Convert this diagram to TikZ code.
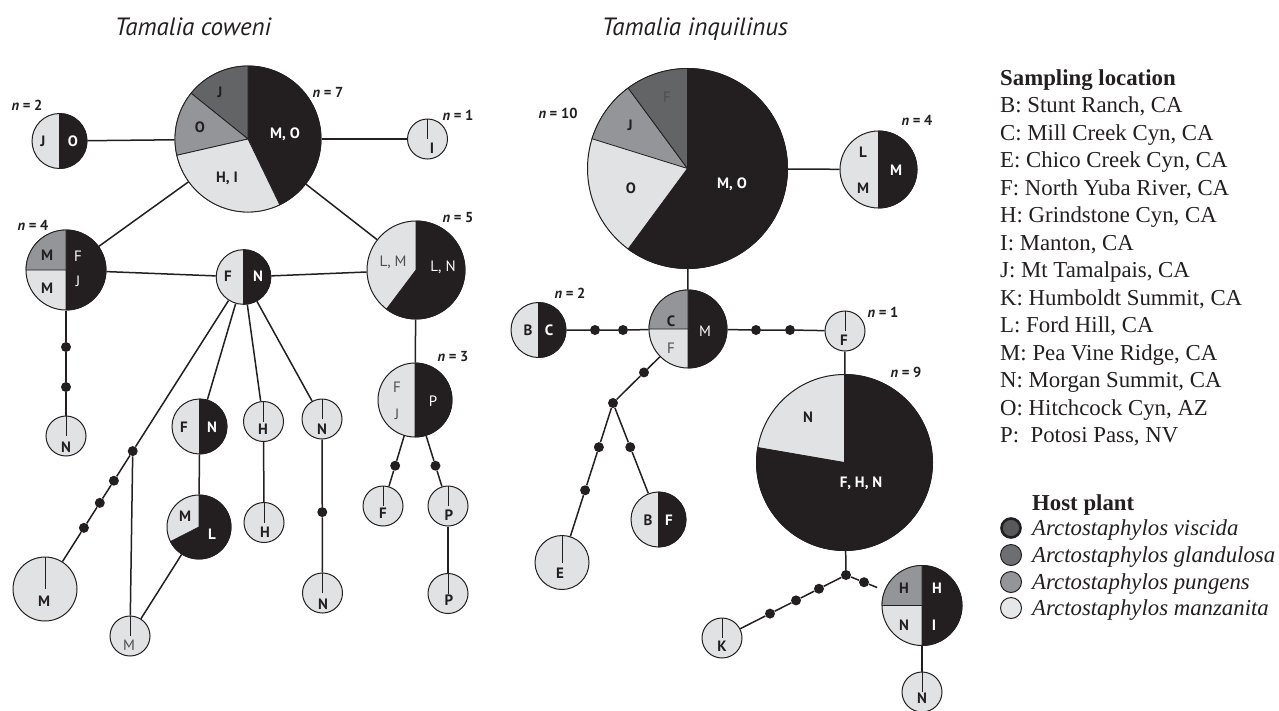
\documentclass[tikz,border=0pt]{standalone}
\usepackage{fontspec}
\setmainfont{Liberation Serif}
\newfontfamily\hapfont{PT Sans}
\usetikzlibrary{calc}

\definecolor{ink}{HTML}{231F20}
\definecolor{pale}{HTML}{E1E2E4}
\definecolor{mid}{HTML}{939598}
\definecolor{dark}{HTML}{636466}
\definecolor{dimtext}{HTML}{4D4D4F}
\definecolor{keyvis}{HTML}{58595B}
\definecolor{keygla}{HTML}{6D6E71}
\definecolor{keypun}{HTML}{939598}
\definecolor{keyman}{HTML}{E6E7E8}

\tikzset{
  hap/.style={circle, draw=ink, fill=pale, line width=1pt, inner sep=0pt},
  link/.style={draw=ink, line width=1.5pt},
  mdot/.style={circle, fill=ink, inner sep=0pt, minimum size=10pt},
  lb/.style={font=\hapfont\bfseries\fontsize{15}{16}\selectfont, text=ink,
             inner sep=0pt, anchor=base, yshift=-5.2pt},
  lw/.style={lb, text=white},
  lr/.style={font=\hapfont\fontsize{15}{16}\selectfont, text=dimtext,
             inner sep=0pt, anchor=base, yshift=-5.2pt},
  lrw/.style={lr, text=white},
  ncount/.style={lb, font=\hapfont\bfseries\fontsize{14.5}{16}\selectfont},
  ttl/.style={font=\hapfont\itshape\fontsize{25}{28}\selectfont, text=ink,
              inner sep=0pt, anchor=base, yshift=-8.5pt},
  keytext/.style={font=\fontsize{22.8}{26}\selectfont, text=ink,
                  inner sep=0pt, anchor=base west, yshift=-7.5pt},
  keyhead/.style={keytext, font=\bfseries\fontsize{22.8}{26}\selectfont},
  keyspec/.style={keytext, font=\itshape\fontsize{22.8}{26}\selectfont},
  keydisc/.style={circle, inner sep=0pt, minimum size=21pt, draw=ink, line width=1pt},
}

% haplotype circle: name, x, y (downwards), radius
\newcommand\hapat[4]{\node[hap, minimum size={2*#4pt}] (#1) at (#2,-#3) {};}
% coloured sector of a haplotype: name, radius, start, end, colour
\newcommand\piepart[5]{\filldraw[fill=#5, draw=ink, line width=0.8pt]
  (#1.center) -- ++(#3:#2pt) arc[start angle=#3, end angle=#4, radius=#2pt] -- cycle;}
% radius mark of a single-sample haplotype
\newcommand\stem[2]{\draw[ink, line width=1pt] (#1.center) -- ++(90:#2pt);}
% text label: style, name, x, y (downwards), text
\newcommand\lab[5]{\node[#1] (#2) at (#3,-#4) {#5};}
\newcommand\nn[1]{{\itshape n} = #1}

\begin{document}
\begin{tikzpicture}[x=1pt, y=1pt]
\useasboundingbox (0,0) rectangle (1279,-710);

% ---------- titles ----------
\lab{ttl}{title-a}{193}{27}{Tamalia coweni}
\lab{ttl}{title-b}{695}{27}{Tamalia inquilinus}

% ---------- Tamalia coweni network ----------
\hapat{c7}{248}{139}{73}
\hapat{c2}{59.5}{141}{27.5}
\hapat{c1}{427.5}{139}{20}
\hapat{c4}{66}{270}{40}
\hapat{cfn}{243.5}{277}{27.3}
\hapat{c5}{416}{270}{49}
\hapat{cna}{66}{436}{20}
\hapat{c3}{415}{400}{37}
\hapat{cfa}{383}{506}{20}
\hapat{cpa}{448}{506}{20}
\hapat{cpb}{448}{593.5}{20}
\hapat{cfn2}{199.5}{426.5}{27.5}
\hapat{cha}{263.5}{421.5}{20}
\hapat{chb}{264}{522.5}{20}
\hapat{cnb}{322}{419}{20}
\hapat{cnc}{322.5}{593}{20}
\hapat{cml}{199}{527}{32}
\hapat{cmb}{45}{589}{32}
\hapat{cms}{130}{636}{20}

\node[mdot] (da1) at (66,-347) {};
\node[mdot] (da2) at (66,-387) {};
\node[mdot] (da3) at ($(c3)!0.62!(cfa)$) {};
\node[mdot] (da4) at ($(c3)!0.62!(cpa)$) {};
\node[mdot] (da5) at ($(cnb)!0.535!(cnc)$) {};
\node[mdot] (jx)  at ($(cfn)!0.558!(cmb)$) {};
\node[mdot] (db1) at ($(cfn)!0.653!(cmb)$) {};
\node[mdot] (db2) at ($(cfn)!0.724!(cmb)$) {};
\node[mdot] (db3) at ($(cfn)!0.804!(cmb)$) {};

\draw[link] (c2) -- (c7);
\draw[link] (c7) -- (c1);
\draw[link] (c7) -- (c4);
\draw[link] (c7) -- (c5);
\draw[link] (c4) -- (cfn);
\draw[link] (cfn) -- (c5);
\draw[link] (c4) -- (da1) -- (da2) -- (cna);
\draw[link] (c5) -- (c3);
\draw[link] (c3) -- (da3) -- (cfa);
\draw[link] (c3) -- (da4) -- (cpa);
\draw[link] (cpa) -- (cpb);
\draw[link] (cfn) -- (jx) -- (db1) -- (db2) -- (db3) -- (cmb);
\draw[link] (jx) -- (cms);
\draw[link] (cml) -- (cms);
\draw[link] (cfn) -- (cfn2);
\draw[link] (cfn2) -- (cml);
\draw[link] (cfn) -- (cha);
\draw[link] (cha) -- (chb);
\draw[link] (cfn) -- (cnb);
\draw[link] (cnb) -- (da5) -- (cnc);

\piepart{c7}{73}{-64.2}{90}{ink}
\piepart{c7}{73}{90}{141.2}{dark}
\piepart{c7}{73}{141.2}{192.9}{mid}
\piepart{c7}{73}{192.9}{295.8}{pale}
\piepart{c2}{27.5}{-90}{90}{ink}
\piepart{c4}{40}{-90}{90}{ink}
\piepart{c4}{40}{90}{180}{mid}
\piepart{cfn}{27.3}{-90}{90}{ink}
\piepart{c5}{49}{233}{450}{ink}
\piepart{c3}{37}{-90}{90}{ink}
\piepart{cfn2}{27.5}{-90}{90}{ink}
\piepart{cml}{32}{207}{450}{ink}
\stem{c1}{20}\stem{cna}{20}\stem{cfa}{20}\stem{cpa}{20}\stem{cpb}{20}
\stem{cha}{20}\stem{chb}{20}\stem{cnb}{20}\stem{cnc}{20}\stem{cmb}{32}\stem{cms}{20}

\lab{lb}{t-c7a}{220}{92}{J}
\lab{lb}{t-c7b}{200}{127}{O}
\lab{lw}{t-c7c}{285}{133}{M, O}
\lab{lb}{t-c7d}{227}{177}{H, I}
\lab{lb}{t-c2a}{43}{141}{J}
\lab{lw}{t-c2b}{73}{141}{O}
\lab{lb}{t-c1}{432}{148}{I}
\lab{lb}{t-c4a}{47}{255}{M}
\lab{lrw}{t-c4b}{78}{256}{F}
\lab{lb}{t-c4c}{47}{288}{M}
\lab{lrw}{t-c4d}{78}{281}{J}
\lab{lb}{t-fna}{228}{276}{F}
\lab{lw}{t-fnb}{258}{276}{N}
\lab{lr}{t-c5a}{393}{261}{L, M}
\lab{lrw}{t-c5b}{443}{266}{L, N}
\lab{lb}{t-na}{66}{447}{N}
\lab{lr}{t-c3a}{397}{387}{F}
\lab{lr}{t-c3b}{397}{414}{J}
\lab{lrw}{t-c3c}{433}{401}{P}
\lab{lb}{t-fa}{383}{513}{F}
\lab{lb}{t-pa}{449}{515}{P}
\lab{lb}{t-pb}{449}{600}{P}
\lab{lb}{t-fn2a}{184}{427}{F}
\lab{lw}{t-fn2b}{212}{427}{N}
\lab{lb}{t-ha}{263}{429}{H}
\lab{lb}{t-hb}{265}{532}{H}
\lab{lb}{t-nb}{322}{429}{N}
\lab{lb}{t-nc}{323}{604}{N}
\lab{lb}{t-mla}{185}{516}{M}
\lab{lw}{t-mlb}{212}{534}{L}
\lab{lb}{t-mb}{44}{601}{M}
\lab{lr}{t-ms}{129}{645}{M}

\lab{ncount}{n-c7}{328}{92}{\nn{7}}
\lab{ncount}{n-c2}{27}{105}{\nn{2}}
\lab{ncount}{n-c1}{458}{115}{\nn{1}}
\lab{ncount}{n-c4}{33}{225}{\nn{4}}
\lab{ncount}{n-c5}{458}{217}{\nn{5}}
\lab{ncount}{n-c3}{453}{356}{\nn{3}}

% ---------- Tamalia inquilinus network ----------
\hapat{r10}{687.5}{168.5}{100}
\hapat{rlm}{878.5}{169.5}{38.5}
\hapat{rcm}{688}{329}{39}
\hapat{rbc}{538.5}{330}{27.5}
\hapat{rf}{845}{331}{20}
\hapat{re}{562}{562.5}{27}
\hapat{rbf}{658.5}{519.5}{27.5}
\hapat{rk}{722}{638}{20}
\hapat{r9}{844.5}{462.5}{88}
\hapat{rhi}{922}{605.5}{40}
\hapat{rn}{922}{692}{20}

\node[mdot] (e1) at (595,-330) {};
\node[mdot] (e2) at (623,-330) {};
\node[mdot] (e3) at (756,-330) {};
\node[mdot] (e4) at (790,-330) {};
\node[mdot] (jz) at (613,-403) {};
\node[mdot] (e5) at ($(rcm)!0.587!(jz)$) {};
\node[mdot] (e6) at ($(jz)!0.277!(re)$) {};
\node[mdot] (e7) at ($(jz)!0.547!(re)$) {};
\node[mdot] (e8) at ($(jz)!0.379!(rbf)$) {};
\node[mdot] (jy) at (846,-575) {};
\node[mdot] (e9) at ($(jy)!0.237!(rhi)$) {};
\coordinate (stub) at ($(jy)!0.41!(rhi)$);
\node[mdot] (e10) at ($(jy)!0.218!(rk)$) {};
\node[mdot] (e11) at ($(jy)!0.403!(rk)$) {};
\node[mdot] (e12) at ($(jy)!0.613!(rk)$) {};

\draw[link] (r10) -- (rlm);
\draw[link] (r10) -- (rcm);
\draw[link] (rbc) -- (e1) -- (e2) -- (rcm);
\draw[link] (rcm) -- (e3) -- (e4) -- (rf);
\draw[link] (rf) -- (r9);
\draw[link] (rcm) -- (e5) -- (jz);
\draw[link] (jz) -- (e6) -- (e7) -- (re);
\draw[link] (jz) -- (e8) -- (rbf);
\draw[link] (r9) -- (jy);
\draw[link] (jy) -- (e9) -- (stub);
\draw[link] (jy) -- (e10) -- (e11) -- (e12) -- (rk);
\draw[link] (rhi) -- (rn);

\piepart{r10}{100}{233.6}{450}{ink}
\piepart{r10}{100}{126.4}{162.7}{mid}
\piepart{r10}{100}{90}{126.4}{dark}
\piepart{rlm}{38.5}{-90}{90}{ink}
\piepart{rcm}{39}{-90}{90}{ink}
\piepart{rcm}{39}{90}{180}{mid}
\piepart{rbc}{27.5}{-90}{90}{ink}
\piepart{rbf}{27.5}{-90}{90}{ink}
\piepart{r9}{88}{170.2}{450}{ink}
\piepart{rhi}{40}{-90}{90}{ink}
\piepart{rhi}{40}{90}{180}{mid}
\stem{rf}{20}\stem{re}{27}\stem{rk}{20}\stem{rn}{20}

\lab{lr}{t-r10a}{667}{97}{F}
\lab{lb}{t-r10b}{630}{125}{J}
\lab{lb}{t-r10c}{631}{188}{O}
\lab{lw}{t-r10d}{732}{183}{M, O}
\lab{lb}{t-lma}{863}{152}{L}
\lab{lb}{t-lmb}{863}{188}{M}
\lab{lw}{t-lmc}{896}{170}{M}
\lab{lb}{t-cma}{671}{321}{C}
\lab{lr}{t-cmb}{671}{348}{F}
\lab{lrw}{t-cmc}{705}{331}{M}
\lab{lb}{t-bca}{528}{330}{B}
\lab{lw}{t-bcb}{549}{330}{C}
\lab{lb}{t-rf}{844}{340}{F}
\lab{lb}{t-re}{560}{573}{E}
\lab{lb}{t-bfa}{648}{520}{B}
\lab{lw}{t-bfb}{669}{520}{F}
\lab{lb}{t-rk}{722}{646}{K}
\lab{lb}{t-r9a}{808}{417}{N}
\lab{lw}{t-r9b}{861}{482}{F, H, N}
\lab{lb}{t-hia}{904}{588}{H}
\lab{lw}{t-hib}{937}{588}{H}
\lab{lb}{t-hic}{904}{625}{N}
\lab{lw}{t-hid}{934}{625}{I}
\lab{lb}{t-rn}{922}{698}{N}

\lab{ncount}{n-r10}{558}{113}{\nn{10}}
\lab{ncount}{n-rlm}{917}{120}{\nn{4}}
\lab{ncount}{n-rbc}{570}{293}{\nn{2}}
\lab{ncount}{n-rf}{883}{312}{\nn{1}}
\lab{ncount}{n-r9}{906}{372}{\nn{9}}

% ---------- key ----------
\lab{keyhead}{k-head}{1000}{78}{Sampling location}
\lab{keytext}{k-b}{1000}{105}{B: Stunt Ranch, CA}
\lab{keytext}{k-c}{1000}{132.5}{C: Mill Creek Cyn, CA}
\lab{keytext}{k-e}{1000}{160}{E: Chico Creek Cyn, CA}
\lab{keytext}{k-f}{1000}{187.5}{F: North Yuba River, CA}
\lab{keytext}{k-h}{1000}{215}{H: Grindstone Cyn, CA}
\lab{keytext}{k-i}{1000}{242.5}{I: Manton, CA}
\lab{keytext}{k-j}{1000}{270}{J: Mt Tamalpais, CA}
\lab{keytext}{k-k}{1000}{297.5}{K: Humboldt Summit, CA}
\lab{keytext}{k-l}{1000}{325}{L: Ford Hill, CA}
\lab{keytext}{k-m}{1000}{352.5}{M: Pea Vine Ridge, CA}
\lab{keytext}{k-n}{1000}{380}{N: Morgan Summit, CA}
\lab{keytext}{k-o}{1000}{407.5}{O: Hitchcock Cyn, AZ}
\lab{keytext}{k-p}{1000}{435}{P:\ \ Potosi Pass, NV}

\lab{keyhead}{h-head}{1032}{503}{Host plant}
\node[keydisc, fill=keyvis, line width=2.6pt, minimum size=19pt] (h-d1) at (1011,-528) {};
\node[keydisc, fill=keygla] (h-d2) at (1011,-555) {};
\node[keydisc, fill=keypun] (h-d3) at (1011,-582) {};
\node[keydisc, fill=keyman] (h-d4) at (1011,-608) {};
\lab{keyspec}{h-t1}{1032}{528}{Arctostaphylos viscida}
\lab{keyspec}{h-t2}{1032}{555}{Arctostaphylos glandulosa}
\lab{keyspec}{h-t3}{1032}{582}{Arctostaphylos pungens}
\lab{keyspec}{h-t4}{1032}{608}{Arctostaphylos manzanita}
\end{tikzpicture}
\end{document}
